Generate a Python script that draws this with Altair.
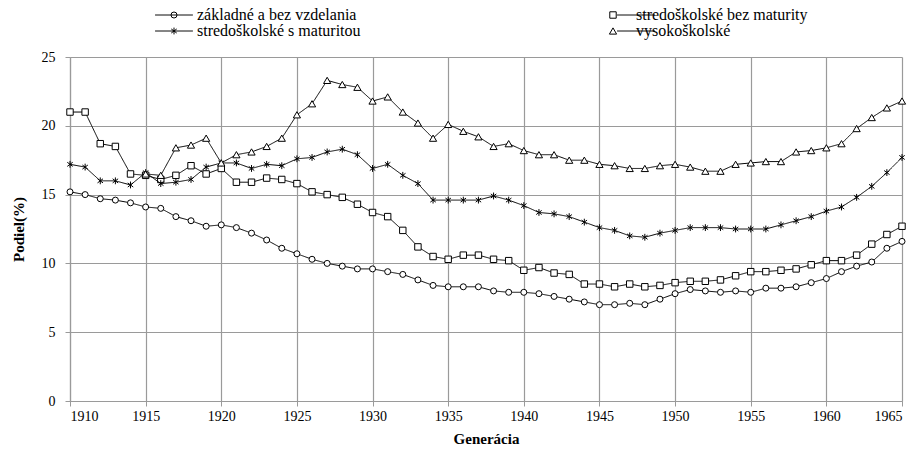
import altair as alt
import pandas as pd

years = list(range(1910, 1966))

zakladne = [15.2, 15.0, 14.7, 14.6, 14.4, 14.1, 14.0, 13.4, 13.1, 12.7,
            12.8, 12.6, 12.2, 11.7, 11.1, 10.7, 10.3, 10.0, 9.8, 9.6,
            9.6, 9.4, 9.2, 8.8, 8.4, 8.3, 8.3, 8.3, 8.0, 7.9,
            7.9, 7.8, 7.6, 7.4, 7.2, 7.0, 7.0, 7.1, 7.0, 7.4,
            7.8, 8.1, 8.0, 7.9, 8.0, 7.9, 8.2, 8.2, 8.3, 8.6,
            8.9, 9.4, 9.8, 10.1, 11.1, 11.6]

bez_maturity = [21.0, 21.0, 18.7, 18.5, 16.5, 16.4, 16.1, 16.4, 17.1, 16.5,
                16.9, 15.9, 15.9, 16.2, 16.1, 15.8, 15.2, 15.0, 14.8, 14.3,
                13.7, 13.4, 12.4, 11.2, 10.5, 10.3, 10.6, 10.6, 10.3, 10.2,
                9.5, 9.7, 9.3, 9.2, 8.5, 8.5, 8.3, 8.5, 8.3, 8.4,
                8.6, 8.7, 8.7, 8.8, 9.1, 9.4, 9.4, 9.5, 9.6, 9.9,
                10.2, 10.2, 10.6, 11.4, 12.1, 12.7]

s_maturitou = [17.2, 17.0, 16.0, 16.0, 15.7, 16.6, 15.8, 15.9, 16.1, 17.0,
               17.3, 17.3, 16.9, 17.2, 17.1, 17.6, 17.7, 18.1, 18.3, 17.9,
               16.9, 17.2, 16.4, 15.8, 14.6, 14.6, 14.6, 14.6, 14.9, 14.6,
               14.2, 13.7, 13.6, 13.4, 13.0, 12.6, 12.4, 12.0, 11.9, 12.2,
               12.4, 12.6, 12.6, 12.6, 12.5, 12.5, 12.5, 12.8, 13.1, 13.4,
               13.8, 14.1, 14.8, 15.6, 16.6, 17.7]

vs_years = list(range(1915, 1966))
vysokoskolske = [16.5, 16.4, 18.4, 18.6, 19.1,
                 17.3, 17.9, 18.1, 18.5, 19.1, 20.8, 21.6, 23.3, 23.0, 22.8,
                 21.8, 22.1, 21.0, 20.2, 19.1, 20.1, 19.6, 19.2, 18.5, 18.7,
                 18.2, 17.9, 17.9, 17.5, 17.5, 17.2, 17.1, 16.9, 16.9, 17.1,
                 17.2, 17.0, 16.7, 16.7, 17.2, 17.3, 17.4, 17.4, 18.1, 18.2,
                 18.4, 18.7, 19.8, 20.6, 21.3, 21.8]

series_names = ["základné a bez vzdelania", "stredoškolské bez maturity",
                "stredoškolské s maturitou", "vysokoškolské"]
x_ticks = list(range(1910, 1966, 5))
y_ticks = [0, 5, 10, 15, 20, 25]

rows = []
for i, (name, yrs, vals) in enumerate(zip(series_names,
                                          [years, years, years, vs_years],
                                          [zakladne, bez_maturity, s_maturitou, vysokoskolske])):
    for yr, v in zip(yrs, vals):
        rows.append({"rok": yr, "podiel": v, "skupina": name, "kod": str(i + 1)})
df = pd.DataFrame(rows)

ASTERISK = "M0,-1L0,1M-0.8,-0.6L0.8,0.6M-0.8,0.6L0.8,-0.6"
LEGEND_LINE = "M-6.3,0L6.3,0"
shapes = ["circle", "square", ASTERISK, "triangle-up"]
sizes = [36, 52, 55, 42]

FONT = "Liberation Serif"
GRID = "#9a9a9a"

x = alt.X("rok:Q",
          scale=alt.Scale(domain=[1910, 1965], nice=False, zero=False),
          axis=alt.Axis(values=x_ticks, format="d", title="Generácia",
                        labelPadding=3, titlePadding=8))
y = alt.Y("podiel:Q",
          scale=alt.Scale(domain=[0, 25], nice=False),
          axis=alt.Axis(values=y_ticks, title="Podiel(%)",
                        labelPadding=10, titlePadding=15))

LEG_X = 96
LEG_Y = -50


def leg_common(colpad):
    return dict(orient="none", legendX=LEG_X, legendY=LEG_Y, columns=2,
                direction="horizontal", title=None, symbolSize=36,
                labelFont=FONT, labelFontSize=16, labelLimit=400,
                labelOffset=15, columnPadding=colpad, rowPadding=-2)


# marker legend (color + shape share one legend)
MARKER_LEGEND = alt.Legend(symbolFillColor="white", symbolStrokeColor="black",
                           symbolStrokeWidth=1, labelColor="black", **leg_common(244))

names_js = "[" + ",".join("'" + n + "'" for n in series_names) + "]"

lines = alt.Chart(df).mark_line(strokeWidth=1).encode(
    x=x, y=y,
    color=alt.Color("skupina:N",
                    scale=alt.Scale(domain=series_names, range=["black"] * 4),
                    legend=MARKER_LEGEND),
    strokeDash=alt.StrokeDash("kod:N",
                              scale=alt.Scale(range=[[1, 0]] * 4),
                              legend=alt.Legend(symbolType=LEGEND_LINE,
                                                symbolStrokeWidth=1,
                                                symbolStrokeColor="black",
                                                labelOpacity=0,
                                                labelExpr=names_js + "[toNumber(datum.label) - 1]",
                                                **leg_common(254))),
)

points = alt.Chart(df).mark_point(fill="white", strokeWidth=1,
                                  opacity=1, fillOpacity=1).encode(
    x=x, y=y,
    color=alt.Color("skupina:N",
                    scale=alt.Scale(domain=series_names, range=["black"] * 4),
                    legend=MARKER_LEGEND),
    shape=alt.Shape("skupina:N",
                    scale=alt.Scale(domain=series_names, range=shapes),
                    legend=MARKER_LEGEND),
    size=alt.Size("skupina:N", scale=alt.Scale(domain=series_names, range=sizes),
                  legend=None),
)

chart = alt.layer(lines, points).properties(
    width=832, height=344,
    autosize=alt.AutoSizeParams(type="none"),
    padding={"left": 62, "top": 49, "right": 12, "bottom": 47},
    background="white",
).configure_view(strokeWidth=0).configure_axis(
    labelFont=FONT, labelFontSize=14, labelColor="black",
    titleFont=FONT, titleFontSize=15, titleFontWeight="bold", titleColor="black",
    domainColor=GRID, tickColor=GRID, gridColor=GRID, tickSize=5,
    grid=True, gridWidth=1.2, domainWidth=1.2,
)

chart.save("out.html", embed_options={"renderer": "svg", "actions": False})
